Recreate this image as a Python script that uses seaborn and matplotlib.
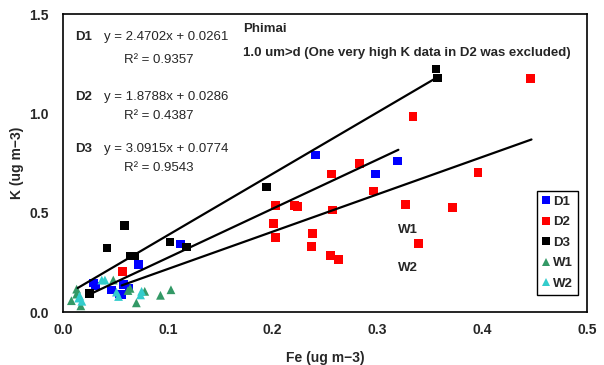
import matplotlib
matplotlib.use("Agg")
import matplotlib.pyplot as plt
import numpy as np
import pandas as pd
import seaborn as sns

# Fe / K pairs (ug m-3)
d1_fe = [0.241, 0.298, 0.319, 0.112, 0.072, 0.029, 0.031, 0.046, 0.054, 0.058, 0.063, 0.056]
d1_k = [0.790, 0.695, 0.760, 0.342, 0.238, 0.146, 0.131, 0.111, 0.091, 0.138, 0.121, 0.089]

d2_fe = [0.446, 0.334, 0.396, 0.372, 0.327, 0.339, 0.283, 0.256, 0.296, 0.257, 0.203,
         0.221, 0.224, 0.201, 0.203, 0.238, 0.237, 0.255, 0.263, 0.057]
d2_k = [1.176, 0.986, 0.703, 0.525, 0.540, 0.346, 0.748, 0.695, 0.609, 0.513, 0.535,
        0.538, 0.533, 0.446, 0.377, 0.394, 0.331, 0.285, 0.265, 0.203]

d3_fe = [0.356, 0.357, 0.194, 0.059, 0.042, 0.064, 0.068, 0.102, 0.118, 0.025]
d3_k = [1.223, 1.178, 0.629, 0.435, 0.322, 0.282, 0.282, 0.352, 0.327, 0.094]

w1_fe = [0.013, 0.013, 0.008, 0.017, 0.048, 0.064, 0.078, 0.070, 0.093, 0.103, 0.062]
w1_k = [0.115, 0.090, 0.057, 0.031, 0.161, 0.119, 0.104, 0.046, 0.084, 0.112, 0.108]

w2_fe = [0.016, 0.018, 0.037, 0.040, 0.051, 0.053, 0.075, 0.074, 0.015]
w2_k = [0.080, 0.054, 0.161, 0.161, 0.100, 0.078, 0.104, 0.086, 0.070]

# trend lines: slope, intercept, x range
fits = {
    "D1": (2.4702, 0.0261, 0.026, 0.320),
    "D2": (1.8788, 0.0286, 0.056, 0.447),
    "D3": (3.0915, 0.0774, 0.014, 0.357),
}
eq_text = {
    "D1": ("y = 2.4702x + 0.0261", "R² = 0.9357"),
    "D2": ("y = 1.8788x + 0.0286", "R² = 0.4387"),
    "D3": ("y = 3.0915x + 0.0774", "R² = 0.9543"),
}

groups = ["D1", "D2", "D3", "W1", "W2"]
fe_all = [d1_fe, d2_fe, d3_fe, w1_fe, w2_fe]
k_all = [d1_k, d2_k, d3_k, w1_k, w2_k]
rows = []
for g, fe, k in zip(groups, fe_all, k_all):
    for a, b in zip(fe, k):
        rows.append((g, a, b))
df = pd.DataFrame(rows, columns=["Group", "Fe", "K"])

pal = {"D1": "#0000FF", "D2": "#FF0000", "D3": "#000000", "W1": "#339966", "W2": "#33CCCC"}
marks = {"D1": "s", "D2": "s", "D3": "s", "W1": "^", "W2": "^"}

sns.set_style("white")
plt.rcParams["font.family"] = ["Liberation Sans", "DejaVu Sans"]

fig = plt.figure(figsize=(6.04, 3.65), dpi=100)
ax = fig.add_axes([0.1043, 0.1452, 0.8676, 0.8164])

for g in ["D3", "D1", "D2"]:
    m, c, x0, x1 = fits[g]
    xs = np.array([x0, x1])
    ax.plot(xs, m * xs + c, color="black", lw=1.6, zorder=3)

sns.scatterplot(data=df, x="Fe", y="K", hue="Group", style="Group", palette=pal,
                markers=marks, s=40, edgecolor="none", linewidth=0, ax=ax, zorder=2)

ax.set_xlim(0, 0.5)
ax.set_ylim(0, 1.5)
ax.set_xticks([0, 0.1, 0.2, 0.3, 0.4, 0.5])
ax.set_xticklabels(["0.0", "0.1", "0.2", "0.3", "0.4", "0.5"])
ax.set_yticks([0, 0.5, 1.0, 1.5])
ax.set_yticklabels(["0.0", "0.5", "1.0", "1.5"])
ax.tick_params(axis="x", direction="in", length=4, width=1, labelsize=10, pad=8)
ax.tick_params(axis="y", direction="out", length=4, width=1, labelsize=10, pad=6)
for lab in ax.get_xticklabels() + ax.get_yticklabels():
    lab.set_fontweight("bold")
for sp in ax.spines.values():
    sp.set_color("black")
    sp.set_linewidth(1.2)

ax.set_xlabel("Fe (ug m−3)", fontsize=10, fontweight="bold", labelpad=10)
ax.set_ylabel("K (ug m−3)", fontsize=10, fontweight="bold", labelpad=4)

# equation labels
eq_y = {"D1": (1.385, 1.27), "D2": (1.08, 0.985), "D3": (0.82, 0.725)}
for g in ["D1", "D2", "D3"]:
    ya, yb = eq_y[g]
    ax.text(0.012, ya, g, fontsize=9.5, fontweight="bold", va="center", ha="left")
    ax.text(0.039, ya, eq_text[g][0], fontsize=9.5, va="center", ha="left")
    ax.text(0.091, yb, eq_text[g][1], fontsize=9.5, va="center", ha="center")

ax.text(0.172, 1.425, "Phimai", fontsize=9.5, fontweight="bold", va="center")
ax.text(0.172, 1.305, "1.0 um>d (One very high K data in D2 was excluded)",
        fontsize=9.5, fontweight="bold", va="center")
ax.text(0.320, 0.415, "W1", fontsize=9.5, fontweight="bold", va="center")
ax.text(0.320, 0.22, "W2", fontsize=9.5, fontweight="bold", va="center")

leg = ax.legend(loc="lower right", bbox_to_anchor=(0.983, 0.057), borderaxespad=0,
                frameon=True, fancybox=False, framealpha=1, edgecolor="black",
                handlelength=0.6, handletextpad=0.2, labelspacing=0.62,
                borderpad=0.4, prop={"size": 9.5, "weight": "bold"}, title=None,
                markerscale=0.85)
leg.get_frame().set_linewidth(1.0)

fig.savefig("out.png", dpi=100)
